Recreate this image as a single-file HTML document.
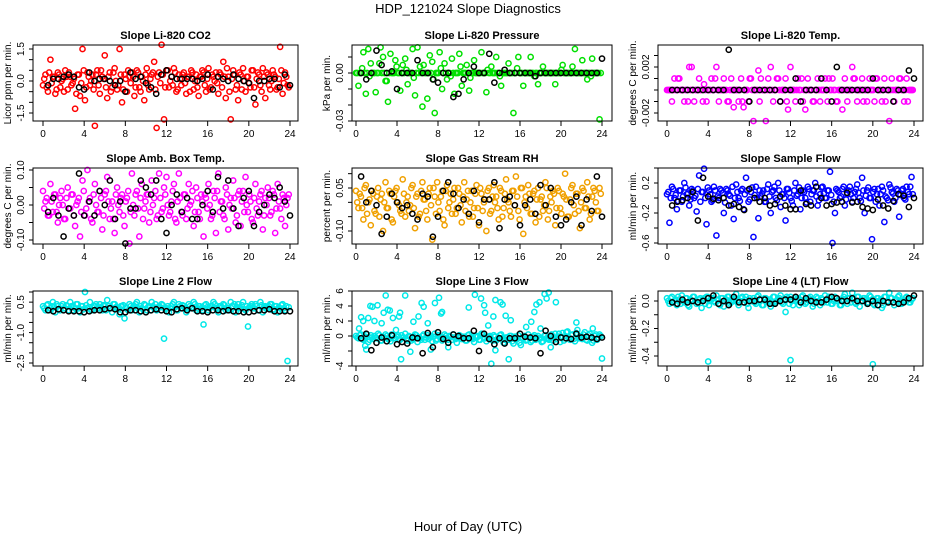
<!DOCTYPE html>
<html><head><meta charset="utf-8"><style>
html,body{margin:0;padding:0;background:#fff;}
svg{display:block;font-family:"Liberation Sans",sans-serif;}
</style></head><body>
<svg id="chart" width="936" height="540" viewBox="0 0 936 540">
<text x="468" y="13" text-anchor="middle" font-size="13">HDP_121024  Slope Diagnostics</text>
<text x="468" y="531" text-anchor="middle" font-size="13">Hour of Day (UTC)</text>
</svg>
<script>
const co2Vals=[-0.2,0.3,-0.5,1.0,0.2,-0.6,0.4,-0.3,0.1,0.5,-0.4,0.2,-0.1,-1.3,0.3,-0.7,1.5,-0.9,0.4,-0.2,0.3,-2.1,0.5,-0.6,0.2,1.2,-0.8,0.4,-0.3,0.6,-0.4,1.5,-1.0,0.3,-0.5,0.2,0.4,-0.7,0.5,-0.3,0.2,-0.9,0.6,-0.4,0.3,0.9,-2.2,0.4,1.7,-1.8,0.5,-0.3,0.2,0.6,-0.5,0.3,-0.2,0.4,-0.6,0.2,0.5,-0.4,0.3,-0.7,0.2,0.4,-0.5,0.6,-0.3,0.2,0.4,-0.6,0.3,0.9,-0.8,0.2,-1.8,0.5,-0.4,-0.9,0.3,0.6,-0.5,0.2,-0.3,0.5,-1.1,0.4,-0.2,0.6,-0.8,0.3,-0.4,0.5,0.2,-0.3,1.6,-0.6,0.4,-0.2];
const co2Vals2=[0.1,-0.3,0.4,-0.1,0.2,-0.4,0.3,0.0,-0.5,0.2,0.4,-0.2,0.1,-0.6,0.3,-0.1,0.5,-0.3,0.2,0.0,-0.4,0.3,-0.2,0.5,0.1,-0.3,0.2,-0.5,0.4,0.0,-0.2,0.3,-0.4,0.1,0.5,-0.1,0.2,-0.3,0.4,-0.5,0.0,0.3,-0.2,0.1,0.4,-0.4,0.2,-0.1,0.3,-0.3,0.5,0.0,-0.2,0.4,-0.4,0.1,0.3,-0.1,0.2,-0.5,0.4,0.0,-0.3,0.2,0.5,-0.2,0.1,-0.4,0.3,0.0,-0.1,0.4,-0.3,0.2,0.6,-0.5,0.1,0.3,-0.2,0.4,-0.4,0.0,0.2,-0.1,0.5,-0.3,0.1,0.3,-0.5,0.2,0.4,-0.2,0.0,0.3,-0.4,0.1,0.5,-0.1,0.2,-0.3];
const co2Black=[-0.2,0.1,0.1,0.2,0.3,0.2,-0.3,-0.4,0.4,0.0,0.1,0.1,0.0,-0.2,0.0,-0.5,0.4,0.1,0.2,-0.1,-0.3,-0.6,0.3,0.5,0.2,0.1,0.1,0.1,0.1,0.0,0.1,0.3,-0.4,0.2,0.1,0.0,0.3,0.1,0.0,-0.1,-0.8,0.0,0.0,0.1,0.1,-0.3,0.3,-0.2];
const presVals=[0.0,-0.008,0.0,0.013,-0.013,0.015,0.006,0.0,-0.012,0.0,0.016,0.01,-0.005,-0.018,0.012,0.0,0.008,0.0,-0.011,0.005,0.009,-0.007,0.0,0.015,-0.014,0.016,0.004,-0.021,0.0,-0.016,0.011,0.007,-0.025,0.0,0.013,-0.01,0.006,-0.004,0.0,0.009,-0.013,0.0,0.012,-0.008,0.0,0.005,-0.011,0.0,0.008,0.0,0.0,0.013,0.0,-0.012,0.0,0.004,0.0,0.010,0.0,-0.008,0.0,0.0,0.006,0.0,-0.025,0.0,0.010,0.0,-0.008,0.0,0.0,0.010,0.0,0.0,-0.007,0.0,0.004,0.0,0.0,0.0,0.0,-0.007,0.0,0.0,0.005,0.0,0.0,0.0,0.004,0.015,0.0,0.0,0.008,0.0,-0.004,0.0,0.009,0.0,0.0,-0.029];
const presVals2=[0,0,0.003,0,0,-0.002,0,0,0,0.006,0,0,-0.005,0,0,0,0.004,0,0,0,0.002,0,0,-0.003,0,0,0,0.005,0,0,0,-0.004,0,0,0.003,0,0,0,-0.002,0,0,0,0.004,0,0,0,-0.003,0,0,0,0,0,0,0.002,0,0,0,0,-0.002,0,0,0,0,0,0,0.003,0,0,0,0,0,0,-0.002,0,0,0,0,0,0,0,0,0,0,0.002,0,0,0,0,0,0,0,0,0,0,0,-0.002,0,0,0,0];
const presBlack=[0.0,-0.004,0.0,0.014,0.005,0.0,0.001,-0.01,0.0,0.0,0.0,0.008,0.0,0.0,-0.004,-0.006,0.0,0.0,-0.015,-0.013,-0.004,0.0,0.004,0.0,0.0,0.012,-0.006,0.0,0.002,0.0,0.0,0.0,0.0,0.0,-0.002,0.0,0.0,0.0,0.0,0.0,0.0,0.0,0.0,0.0,0.0,0.0,0.0,0.009];
const tempVals=[0,0,-0.001,0.001,0,0.001,0,-0.001,0,0.002,0.002,-0.001,0,0.001,0,0.0005,-0.001,0,0.001,0,0.002,-0.001,0,0.001,0,-0.001,0.001,-0.0015,0,-0.001,0.001,-0.0015,0,-0.001,0.001,-0.0027,0,0.0017,0.001,0,-0.0027,0.001,0.002,-0.001,0,0.001,-0.001,0,0.001,-0.0017,0.002,0,-0.001,0.001,0,-0.001,-0.0017,0.001,0,-0.001,0,0.001,-0.001,0,0.001,-0.001,0,0.001,0,-0.001,0,-0.0017,0.001,-0.001,0,0.002,0.001,-0.001,0,0.001,0,-0.001,0.001,0,-0.001,0.001,0,-0.001,0.001,0,-0.0027,0.001,-0.001,0,0.001,0,-0.001,0.001,0,0];
const tempVals2=[0,0,0,0,0.001,0,0,0,-0.001,0,0,0,0,0,-0.001,0,0,0,0,0.001,0,0,0,0,-0.001,0,0,0,0,0,-0.001,0,0,0.001,0,0,0,-0.001,0,0,0,0,0,0,0.001,0,0,0,-0.001,0,0,0,0,0,0.001,0,0,0,0,-0.001,0,0,0,0,0,0.001,0,0,-0.001,0,0,0,0,0,0,0.001,0,0,0,-0.001,0,0,0,0,0.001,0,0,0,-0.001,0,0,0,0,0,0.001,0,0,-0.001,0,0];
const tempBlack=[0,0,0,0,0,0,0,0,0,0,0,0.0035,0,0,0,-0.001,0,0,0,0,0,-0.001,0,0,0.001,-0.001,0,0,0,0.001,0,-0.001,0.002,0,0,0,0,0,0,0.001,0,0,0,-0.001,0,0,0.0017,0.001];
const ambVals=[0.04,0.01,-0.03,0.06,-0.02,0.03,-0.05,0.02,0.00,-0.04,0.05,-0.01,0.03,-0.06,0.01,-0.09,0.07,-0.03,0.1,0.02,-0.05,0.06,-0.02,0.04,-0.07,0.03,0.08,-0.04,0.01,-0.08,0.05,-0.02,0.03,-0.06,0.02,-0.11,0.09,-0.03,0.04,-0.09,0.06,-0.01,0.03,-0.05,0.07,0.02,-0.04,0.09,-0.02,0.05,0.08,-0.03,0.01,0.06,-0.05,0.09,-0.02,0.03,-0.04,0.06,0.01,-0.06,0.05,-0.02,0.03,-0.09,0.02,0.06,-0.04,0.04,-0.08,0.09,0.01,-0.03,0.05,-0.07,0.02,0.07,-0.05,0.03,-0.06,0.04,0.08,-0.02,0.01,-0.05,0.06,-0.03,0.03,-0.07,0.02,0.05,-0.03,0.04,-0.08,0.06,-0.01,0.03,-0.06,0.02];
const ambVals2=[-0.01,0.02,-0.03,0.01,0.03,-0.02,0.0,0.04,-0.04,0.02,-0.01,0.03,-0.03,0.0,0.02,-0.02,0.04,-0.01,0.01,-0.04,0.03,0.0,-0.02,0.02,-0.03,0.04,0.01,-0.01,-0.04,0.03,0.0,0.02,-0.03,0.01,0.04,-0.02,0.0,0.03,-0.01,0.02,-0.04,0.01,0.03,-0.02,0.0,0.04,-0.03,0.02,-0.01,0.03,0.0,-0.02,0.04,-0.04,0.01,0.02,-0.03,0.03,-0.01,0.0,0.04,-0.02,0.02,-0.04,0.01,0.03,-0.01,0.0,-0.03,0.02,0.04,-0.02,0.01,-0.04,0.03,0.0,-0.01,0.02,-0.03,0.04,0.01,-0.02,0.0,0.03,-0.04,0.02,-0.01,0.01,0.04,-0.03,0.0,0.02,-0.02,0.03,-0.01,0.01,-0.04,0.02,0.0,0.03];
const ambBlack=[-0.02,0.02,-0.03,-0.09,-0.01,-0.03,0.09,-0.03,0.01,-0.03,0.04,0.0,0.07,-0.04,0.01,-0.11,-0.01,-0.01,0.07,0.05,0.03,0.07,-0.04,-0.08,0.0,0.03,-0.02,0.02,-0.04,-0.04,0.0,0.04,-0.02,0.08,-0.01,0.07,-0.01,-0.06,0.02,0.04,-0.06,-0.02,0.0,0.03,0.02,0.05,0.01,-0.03];
const rhVals=[0.04,-0.02,0.02,-0.06,0.06,0.0,-0.08,0.03,-0.04,0.05,0.01,-0.1,0.07,-0.02,0.03,-0.07,0.04,0.0,-0.03,0.08,-0.05,0.02,-0.01,0.06,-0.09,0.03,-0.04,0.07,0.01,-0.06,0.05,-0.13,0.02,0.07,-0.03,0.04,-0.08,0.06,0.0,-0.04,0.05,-0.02,0.03,-0.07,0.07,0.01,-0.05,0.04,-0.02,0.06,-0.08,0.03,0.0,-0.1,0.05,-0.03,0.06,0.02,-0.06,0.04,-0.02,0.08,0.0,-0.05,0.04,0.09,-0.03,0.05,-0.11,0.02,0.06,-0.04,0.03,-0.07,0.05,0.01,-0.03,0.07,-0.06,0.02,0.04,-0.08,0.05,-0.02,0.03,0.1,-0.05,0.01,0.06,-0.04,0.03,-0.09,0.05,-0.02,0.07,-0.06,0.02,0.04,-0.03,0.05];
const rhVals2=[0.0,0.03,-0.02,0.05,-0.04,0.01,0.04,-0.03,0.02,-0.05,0.03,0.0,-0.02,0.04,-0.06,0.02,0.05,-0.01,-0.04,0.03,0.0,-0.03,0.05,-0.02,0.02,-0.05,0.04,0.01,-0.03,0.03,-0.01,0.05,-0.04,0.0,0.02,-0.06,0.04,-0.02,0.03,0.01,-0.04,0.05,-0.01,0.02,-0.03,0.04,0.0,-0.05,0.03,-0.02,0.05,-0.03,0.01,0.04,-0.04,0.02,0.0,-0.02,0.05,-0.05,0.03,0.01,-0.03,0.04,-0.01,0.02,-0.06,0.05,0.0,-0.02,0.03,-0.04,0.04,0.01,-0.05,0.02,-0.01,0.05,-0.03,0.0,0.03,-0.02,0.04,-0.04,0.02,0.01,-0.05,0.05,-0.01,0.03,-0.03,0.0,0.04,-0.02,0.02,-0.04,0.05,0.0,-0.03,0.03];
const rhBlack=[0.09,0.0,0.04,-0.01,-0.11,-0.05,0.03,0.0,-0.02,-0.01,-0.04,-0.06,0.03,0.02,-0.12,-0.05,0.04,0.07,0.03,-0.02,0.01,-0.04,0.04,-0.07,0.01,0.01,0.07,-0.09,0.01,0.02,-0.01,-0.08,-0.01,0.01,-0.04,0.06,-0.01,0.05,-0.05,-0.08,-0.06,0.0,0.02,-0.08,0.01,-0.03,0.09,-0.05];
const sfVals=[0.05,-0.33,0.15,0.0,-0.15,0.1,-0.05,0.2,0.05,-0.1,0.12,0.0,-0.18,0.3,0.08,0.39,-0.35,0.1,-0.05,0.15,-0.5,0.0,0.1,-0.2,0.12,0.05,-0.1,-0.28,0.18,0.0,0.1,-0.15,0.27,-0.05,0.08,-0.52,0.15,-0.27,0.02,0.1,-0.05,0.18,-0.2,0.1,0.0,0.2,-0.12,0.05,-0.3,0.12,0.0,-0.1,0.2,0.05,-0.15,0.1,0.0,0.15,-0.05,0.1,0.2,-0.1,0.05,0.15,0.0,0.1,0.35,-0.6,-0.2,0.1,0.0,0.12,-0.1,0.05,0.15,-0.05,0.08,0.18,0.0,0.27,-0.2,0.1,0.0,-0.55,0.12,0.05,-0.1,0.15,-0.32,0.0,0.18,0.08,-0.05,0.12,-0.25,0.1,0.0,0.15,0.05,0.28];
const sfVals2=[0.08,0.0,0.12,0.04,-0.04,0.1,0.02,0.14,0.06,-0.02,0.1,0.03,0.12,-0.05,0.08,0.0,0.14,0.05,-0.03,0.1,0.02,0.12,0.07,-0.06,0.1,0.03,0.15,0.0,0.08,-0.04,0.12,0.05,0.1,-0.02,0.14,0.04,0.0,0.1,0.06,-0.05,0.12,0.02,0.08,0.15,-0.03,0.1,0.05,0.0,0.12,0.07,-0.04,0.1,0.03,0.14,0.0,0.08,-0.06,0.12,0.05,0.1,0.02,-0.03,0.14,0.06,0.0,0.1,0.04,-0.05,0.12,0.08,0.02,0.15,-0.02,0.1,0.05,0.0,0.12,0.07,-0.04,0.1,0.03,0.14,0.0,0.08,-0.05,0.12,0.05,0.1,0.02,-0.03,0.14,0.06,0.0,0.1,0.04,0.12,-0.02,0.08,0.15,0.05];
const sfBlack=[-0.1,-0.05,-0.03,0.0,0.08,-0.3,0.27,0.02,-0.01,-0.03,0.0,-0.1,-0.08,-0.12,-0.16,0.12,0.0,-0.05,0.0,-0.1,-0.08,0.02,-0.1,-0.15,-0.15,0.1,-0.08,-0.1,0.15,0.0,-0.1,-0.08,-0.06,-0.05,0.07,-0.06,-0.05,-0.12,-0.14,-0.16,-0.02,-0.1,-0.14,-0.04,0.05,0.03,-0.12,0.0];
const l2Vals=[0.3,0.1,0.4,0.2,0.5,0.0,0.3,0.1,0.4,0.2,0.3,0.5,0.1,0.2,0.4,0.0,0.3,1.0,0.2,0.5,0.1,0.3,0.2,0.4,0.1,0.3,0.6,0.2,0.0,0.4,0.2,-0.1,0.3,-0.3,0.2,0.4,0.1,0.3,0.5,0.0,0.2,0.4,0.1,0.3,0.5,0.2,0.1,0.3,0.4,-1.3,0.2,0.0,0.3,0.5,0.1,0.4,0.2,0.3,0.0,0.4,0.2,0.5,0.1,0.3,0.2,-0.6,0.4,0.1,0.3,0.5,0.2,0.0,0.3,0.4,0.1,0.2,0.5,0.3,0.0,0.4,0.2,0.5,0.1,-0.7,0.3,0.2,0.4,0.1,0.5,0.0,0.3,0.2,0.4,0.1,0.3,0.0,0.2,0.4,0.1,-2.4];
const l2Vals2=[0.2,0.35,0.1,0.3,0.25,0.4,0.15,0.3,0.2,0.35,0.1,0.3,0.25,0.4,0.2,0.3,0.15,0.35,0.25,0.1,0.3,0.4,0.2,0.25,0.35,0.1,0.3,0.2,0.4,0.25,0.15,0.3,0.35,0.2,0.1,0.3,0.25,0.4,0.2,0.3,0.15,0.35,0.25,0.1,0.3,0.4,0.2,0.25,0.35,0.15,0.3,0.2,0.4,0.25,0.1,0.3,0.35,0.2,0.15,0.3,0.25,0.4,0.2,0.3,0.1,0.35,0.25,0.2,0.3,0.4,0.15,0.3,0.25,0.35,0.2,0.1,0.3,0.4,0.25,0.2,0.35,0.15,0.3,0.25,0.4,0.2,0.3,0.1,0.35,0.25,0.2,0.3,0.4,0.15,0.3,0.25,0.35,0.2,0.3,0.25];
const l2Black=[0.1,0.05,0.15,0.1,0.05,0.05,0.05,0.0,0.05,0.1,0.1,0.15,0.2,0.15,0.0,0.0,0.1,0.1,0.05,0.0,0.1,0.15,0.1,0.05,0.0,0.15,0.2,0.1,0.2,0.05,0.05,0.0,0.1,0.1,0.05,0.1,0.05,0.05,0.0,0.0,0.05,0.1,0.1,0.15,0.05,0.05,0.05,0.05];
const l3Vals=[0.0,-0.3,0.2,-0.5,-0.1,-0.8,0.1,-0.4,-0.2,0.3,-0.6,-0.1,0.2,-0.4,-0.7,0.0,-0.3,0.1,-0.5,-0.2,0.3,-0.6,-0.1,-0.4,0.2,-0.8,-0.3,0.0,-0.5,0.1,-0.2,-0.7,0.3,-0.4,-0.1,-0.6,0.2,-0.3,0.0,-0.5,-0.2,-0.9,0.1,-0.4,-0.1,-0.6,0.2,-0.3,-0.8,0.0,-0.5,0.3,-0.2,-0.7,-0.1,-0.4,0.1,-0.6,-0.3,0.2,-0.9,-0.2,-0.5,0.0,-1.0,-0.4,0.1,-1.2,-0.3,-0.6,0.2,-0.8,-0.1,-0.5,0.0,-0.3,-0.7,0.1,-0.4,-0.2,-0.6,0.3,-0.1,-0.8,0.4,-0.3,0.6,-0.5,0.2,-0.7,0.8,-0.2,-0.4,0.5,-0.6,0.3,-0.9,0.0,-0.5,0.2];
const l3Vals2=[-0.2,0.1,-0.4,-0.1,0.2,-0.5,-0.2,0.0,-0.3,0.1,-0.6,-0.2,0.0,-0.4,0.2,-0.3,-0.1,-0.5,0.1,-0.2,-0.4,0.0,-0.6,-0.1,0.1,-0.3,-0.5,0.2,-0.2,-0.4,0.0,-0.1,-0.6,0.1,-0.3,-0.2,0.0,-0.5,-0.1,0.2,-0.4,-0.2,0.0,-0.3,-0.6,0.1,-0.2,-0.4,0.0,-0.1,-0.5,0.2,-0.3,-0.2,0.0,-0.6,-0.1,-0.4,0.1,-0.3,-0.5,-0.2,0.0,-0.7,-0.1,-0.4,-0.9,-0.2,0.0,-0.5,-0.3,-0.6,0.1,-0.2,-0.4,-0.8,0.0,-0.3,-0.5,0.2,-0.2,-0.4,0.3,-0.1,-0.6,0.5,-0.2,0.1,-0.4,0.4,-0.3,0.0,0.2,-0.5,0.1,-0.3,-0.6,0.2,-0.2,0.0];
const l3SpikeHours=[0.3,0.5,0.7,0.9,1.0,1.2,1.4,1.6,1.8,2.1,2.5,2.7,2.9,3.1,3.3,3.6,3.9,4.2,4.3,4.4,4.8,5.3,5.6,6.1,6.4,6.6,7.0,7.3,7.7,8.1,8.3,8.4,9.0,11.0,11.6,12.2,12.5,12.6,12.9,13.2,13.4,13.6,13.6,14.1,14.3,14.6,14.9,15.1,16.6,17.1,17.4,17.6,17.9,18.0,18.4,18.6,18.8,19.0,19.5,21.5,23.1,24.0];
const l3SpikeVals=[1.0,2.5,2.0,-1.3,-1.8,2.4,4.0,3.9,2.0,4.1,1.7,3.1,5.4,3.5,3.4,2.4,0.8,2.6,3.1,-3.1,5.4,-2.1,1.9,2.6,4.4,3.9,1.7,-1.8,4.4,5.1,3.0,3.2,-1.5,3.8,5.5,5.0,4.1,3.1,1.4,-3.7,2.6,-1.9,4.8,4.5,4.2,2.7,-3.1,2.1,1.2,1.9,3.2,4.2,4.5,1.0,5.6,5.0,5.8,-1.5,4.5,1.8,1.0,-3.0];
const l3Black=[-0.3,0.3,-1.9,-0.9,-0.2,-0.7,0.1,-1.1,-0.8,-1.0,-0.2,-0.3,-2.3,0.4,-1.5,0.5,-0.4,-0.9,0.2,0.0,-0.3,-0.3,0.7,-2.0,0.3,-0.4,-1.1,-0.3,-1.0,-0.3,-0.3,0.3,-0.1,-0.2,-0.3,-2.3,0.7,0.0,-0.8,-0.2,-0.3,-0.4,0.3,-0.2,-0.1,-0.2,-0.4,-0.2];
const l4Vals=[0.02,-0.02,0.03,0.0,-0.03,0.01,0.04,-0.01,0.02,-0.04,0.0,0.03,-0.02,0.01,-0.05,0.02,0.03,-0.03,0.01,0.0,0.04,-0.02,0.02,-0.04,0.01,0.03,-0.01,0.0,0.05,-0.03,0.02,-0.01,0.03,-0.05,0.0,0.02,-0.02,0.04,0.01,-0.03,0.02,0.0,-0.04,0.03,-0.01,0.01,0.04,-0.02,-0.08,0.02,0.03,-0.03,0.0,0.02,-0.01,0.04,-0.02,0.01,0.03,-0.04,0.0,0.02,-0.03,0.01,0.04,-0.01,0.02,-0.02,0.03,0.0,-0.03,0.01,0.05,-0.02,0.02,0.06,-0.01,0.03,-0.04,0.0,0.02,-0.02,0.04,0.01,-0.03,0.02,0.0,-0.05,0.03,-0.01,0.06,0.02,-0.03,0.01,0.04,-0.02,0.0,0.03,-0.01,0.01];
const l4Vals2=[0.0,0.02,-0.01,0.01,0.03,-0.02,0.0,0.02,-0.03,0.01,0.03,0.0,-0.01,0.02,0.01,-0.02,0.03,0.0,0.02,-0.01,0.01,-0.03,0.02,0.0,0.03,-0.02,0.01,0.02,-0.01,0.0,0.03,0.01,-0.02,0.02,0.0,-0.01,0.03,0.01,-0.03,0.02,0.0,0.01,-0.02,0.03,0.0,0.02,-0.01,0.01,0.03,-0.02,0.0,0.02,0.01,-0.03,0.03,0.0,-0.01,0.02,0.01,-0.02,0.03,0.0,0.02,-0.01,0.01,0.03,-0.02,0.0,0.02,0.01,-0.03,0.03,0.0,0.02,-0.01,0.01,-0.02,0.03,0.0,0.02,0.01,-0.01,0.03,-0.02,0.0,0.02,0.01,-0.03,0.03,0.0,0.02,-0.01,0.01,0.03,-0.02,0.0,0.02,0.01,-0.01,0.02];
const l4SpikeHours=[4.0,12.0,20.0];
const l4SpikeVals=[-0.44,-0.43,-0.46];
const l4Black=[-0.01,-0.02,0.01,-0.01,0.0,-0.01,0.0,0.02,0.04,-0.02,0.0,-0.03,0.03,-0.01,-0.01,0.0,0.0,0.01,0.01,-0.02,-0.02,0.0,0.01,0.01,0.03,-0.01,0.02,0.0,-0.01,-0.01,0.01,0.03,0.02,0.0,0.0,0.02,0.0,0.0,-0.02,0.0,-0.03,0.0,-0.01,-0.01,-0.02,-0.01,0.02,0.04];
const xTicks=[0,4,8,12,16,20,24];

const NS="http://www.w3.org/2000/svg";
const svg=document.getElementById('chart');
function mk(tag,attrs,parent,text){const e=document.createElementNS(NS,tag);for(const k in attrs)e.setAttribute(k,attrs[k]);if(text!==undefined)e.textContent=text;(parent||svg).appendChild(e);return e;}

const colL=[33,352,658],colR=[298,612,923],colX0=[43,356,667],colX24=[290,602,914];
const rowT=[45,168,291],rowB=[121,244,366];
const panels=[
 {name:'co2',title:'Slope Li-820 CO2',ylab:'Licor ppm per min.',col:'#ff0000',vals:co2Vals,vals2:co2Vals2,blk:co2Black,sh:[],sv:[],c:[1.5,49,-1.5,113],ticks:[-1.5,-1,-0.5,0,0.5,1,1.5],labs:['-1.5','0.0','1.5'],labv:[-1.5,0,1.5]},
 {name:'pressure',title:'Slope Li-820 Pressure',ylab:'kPa per min.',col:'#00e000',vals:presVals,vals2:presVals2,blk:presBlack,sh:[],sv:[],c:[0,73,-0.03,121],ticks:[-0.03,-0.02,-0.01,0,0.01],labs:['-0.03','0.00'],labv:[-0.03,0]},
 {name:'temp',title:'Slope Li-820 Temp.',ylab:'degrees C per min.',col:'#ff00ff',vals:tempVals,vals2:tempVals2,blk:tempBlack,sh:[],sv:[],c:[0,90,0.002,67],ticks:[-0.002,-0.001,0,0.001,0.002,0.003],labs:['-0.002','0.002'],labv:[-0.002,0.002]},
 {name:'amb-temp',title:'Slope Amb. Box Temp.',ylab:'degrees C per min.',col:'#ff00ff',vals:ambVals,vals2:ambVals2,blk:ambBlack,sh:[],sv:[],c:[0.1,170,-0.1,240],ticks:[-0.1,-0.05,0,0.05,0.1],labs:['-0.10','0.00','0.10'],labv:[-0.1,0,0.1]},
 {name:'gas-rh',title:'Slope Gas Stream RH',ylab:'percent per min.',col:'#f0a000',vals:rhVals,vals2:rhVals2,blk:rhBlack,sh:[],sv:[],c:[0.05,188,-0.1,231],ticks:[-0.1,-0.05,0,0.05,0.1],labs:['-0.10','0.05'],labv:[-0.1,0.05]},
 {name:'sample-flow',title:'Slope Sample Flow',ylab:'ml/min per min.',col:'#0000ff',vals:sfVals,vals2:sfVals2,blk:sfBlack,sh:[],sv:[],c:[0.2,183,-0.6,243],ticks:[-0.6,-0.4,-0.2,0,0.2,0.4],labs:['-0.6','-0.2','0.2'],labv:[-0.6,-0.2,0.2]},
 {name:'line2-flow',title:'Slope Line 2 Flow',ylab:'ml/min per min.',col:'#00e8e8',vals:l2Vals,vals2:l2Vals2,blk:l2Black,sh:[],sv:[],c:[1.0,292,-2.5,363],ticks:[1,0.5,0,-0.5,-1,-1.5,-2,-2.5],labs:['0.5','-1.0','-2.5'],labv:[0.5,-1,-2.5]},
 {name:'line3-flow',title:'Slope Line 3 Flow',ylab:'ml/min per min.',col:'#00e8e8',vals:l3Vals,vals2:l3Vals2,blk:l3Black,sh:l3SpikeHours,sv:l3SpikeVals,c:[6,291,-4,366],ticks:[-4,-2,0,2,4,6],labs:['-4','0','2','4','6'],labv:[-4,0,2,4,6]},
 {name:'line4-flow',title:'Slope Line 4 (LT) Flow',ylab:'ml/min per min.',col:'#00e8e8',vals:l4Vals,vals2:l4Vals2,blk:l4Black,sh:l4SpikeHours,sv:l4SpikeVals,c:[0,301,-0.4,356],ticks:[0,-0.1,-0.2,-0.3,-0.4],labs:['0.0','-0.2','-0.4'],labv:[0,-0.2,-0.4]}
];

panels.forEach((p,i)=>{
 const ci=i%3,ri=Math.floor(i/3);
 const L=colL[ci],R=colR[ci],T=rowT[ri],B=rowB[ri];
 const xs=h=>colX0[ci]+(colX24[ci]-colX0[ci])*h/24;
 const ys=v=>p.c[1]+(v-p.c[0])*(p.c[3]-p.c[1])/(p.c[2]-p.c[0]);
 const g=mk('g',{});
 
 
 const t=mk('text',{x:(L+R)/2,y:T-6,'text-anchor':'middle','font-size':'11','font-weight':'bold'},g,p.title);
 
 
 const pts=mk('g',{fill:'none','stroke-width':'1.5'},g);
 
 
 p.vals.forEach((v,k)=>{const c=mk('circle',{cx:xs(k*0.24),cy:ys(v),r:2.6,stroke:p.col},pts);
  
  });
 p.vals2.forEach((v,k)=>{const c=mk('circle',{cx:xs(0.12+k*0.24),cy:ys(v),r:2.6,stroke:p.col},pts);
  
  });
 p.sv.forEach((v,k)=>{const c=mk('circle',{cx:xs(p.sh[k]),cy:ys(v),r:2.6,stroke:p.col},pts);
  
  });
 p.blk.forEach((v,k)=>{const c=mk('circle',{cx:xs(0.5+k*0.5),cy:ys(v),r:2.6,stroke:'#000'},pts);
  
  });
 const box=mk('rect',{x:L,y:T,width:R-L,height:B-T,fill:'none',stroke:'#000','stroke-width':'1'},g);
 
 
 const ax=mk('g',{stroke:'#000','stroke-width':'1'},g);
 
 
 xTicks.forEach(h=>{mk('line',{x1:xs(h),x2:xs(h),y1:B,y2:B+5},ax);
  const tl=mk('text',{x:xs(h),y:B+16,'text-anchor':'middle','font-size':'10',stroke:'none',fill:'#000'},ax,String(h));
  
  });
 const ay=mk('g',{stroke:'#000','stroke-width':'1'},g);
 
 
 p.ticks.forEach(v=>mk('line',{x1:L-4,x2:L,y1:ys(v),y2:ys(v)},ay));
 p.labs.forEach((s,k)=>{const yy=ys(p.labv[k]);const tx=L-9;
  const tl=mk('text',{x:tx,y:yy,transform:`rotate(-90 ${tx} ${yy})`,'text-anchor':'middle','font-size':'10',stroke:'none',fill:'#000'},ay,s);
  
  });
 const yc=(T+B)/2,yx=L-22;
 const yl=mk('text',{x:yx,y:yc,transform:`rotate(-90 ${yx} ${yc})`,'text-anchor':'middle','font-size':'10'},g,p.ylab);
 
 
});
</script>
</body></html>
